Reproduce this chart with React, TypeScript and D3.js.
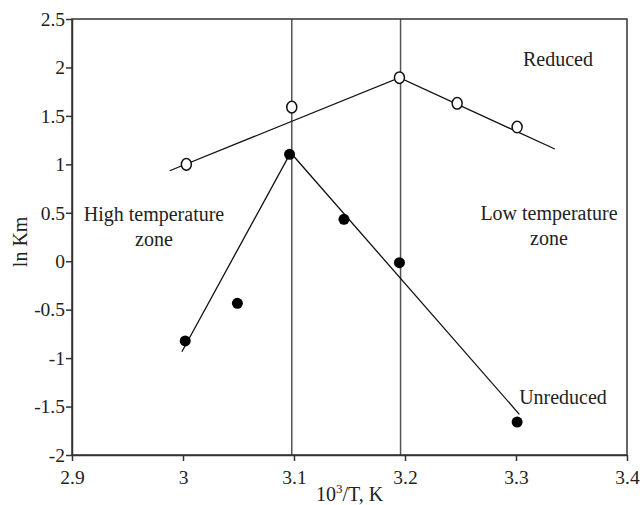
import React, { useEffect, useRef } from 'react';
import * as d3 from 'd3';

const xTicks = [2.9, 3, 3.1, 3.2, 3.3, 3.4];
const yTicks = [-2, -1.5, -1, -0.5, 0, 0.5, 1, 1.5, 2, 2.5];

const reducedX = [3.003, 3.098, 3.195, 3.247, 3.301];
const reducedY = [1.0, 1.59, 1.894, 1.63, 1.385];
const unreducedX = [3.002, 3.049, 3.096, 3.145, 3.195, 3.301];
const unreducedY = [-0.823, -0.435, 1.103, 0.432, -0.015, -1.66];

// fitted trend lines (two segments each)
const reducedFitX = [2.988, 3.195, 3.335];
const reducedFitY = [0.934, 1.894, 1.158];
const unreducedFitX = [2.999, 3.097, 3.303];
const unreducedFitY = [-0.934, 1.12, -1.58];

const zoneLines = [3.098, 3.196];

const width = 642;
const height = 505;
const margin = { top: 19, right: 15, bottom: 50, left: 72 };
const font = '"Liberation Serif", "Times New Roman", serif';
const ink = '#222';

export default function App() {
    const svgRef = useRef<SVGSVGElement>(null);

    useEffect(() => {
        const svg = d3.select(svgRef.current);
        svg.selectAll('*').remove();

        const x = d3.scaleLinear()
            .domain([2.9, 3.4])
            .range([margin.left, width - margin.right]);

        const y = d3.scaleLinear()
            .domain([-2, 2.5])
            .range([height - margin.bottom, margin.top]);

        const line = d3.line<[number, number]>()
            .x(d => x(d[0]))
            .y(d => y(d[1]));

        // zone dividers
        svg.append('g')
            .selectAll('line')
            .data(zoneLines)
            .join('line')
                .attr('x1', d => x(d))
                .attr('x2', d => x(d))
                .attr('y1', y(2.5))
                .attr('y2', y(-2))
                .attr('stroke', '#555')
                .attr('stroke-width', 1.5);

        // box
        svg.append('rect')
            .attr('x', x(2.9))
            .attr('y', y(2.5))
            .attr('width', x(3.4) - x(2.9))
            .attr('height', y(-2) - y(2.5))
            .attr('fill', 'none')
            .attr('stroke', '#333')
            .attr('stroke-width', 1.5);

        const xAxis = svg.append('g')
            .attr('transform', `translate(0, ${y(-2)})`)
            .call(d3.axisBottom(x).tickValues(xTicks).tickFormat(d => String(d)).tickSize(6).tickSizeOuter(0));

        const yAxis = svg.append('g')
            .attr('transform', `translate(${x(2.9)}, 0)`)
            .call(d3.axisLeft(y).tickValues(yTicks).tickFormat(d => String(d)).tickSize(6).tickSizeOuter(0));

        [xAxis, yAxis].forEach(g => {
            g.select('.domain').attr('stroke', '#333').attr('stroke-width', 1.5);
            g.selectAll('.tick line').attr('stroke', '#333').attr('stroke-width', 1.5);
            g.selectAll('.tick text')
                .attr('font-family', font)
                .attr('font-size', 19.5)
                .attr('fill', ink);
        });
        xAxis.selectAll('.tick text').attr('dy', '1.05em');
        yAxis.selectAll('.tick text').attr('x', -7);

        // trend lines
        svg.append('path')
            .attr('d', line(reducedFitX.map((v, i) => [v, reducedFitY[i]]))!)
            .attr('fill', 'none')
            .attr('stroke', '#111')
            .attr('stroke-width', 1.3);

        svg.append('path')
            .attr('d', line(unreducedFitX.map((v, i) => [v, unreducedFitY[i]]))!)
            .attr('fill', 'none')
            .attr('stroke', '#111')
            .attr('stroke-width', 1.3);

        // markers
        svg.append('g')
            .selectAll('ellipse')
            .data(reducedX.map((v, i) => [v, reducedY[i]]))
            .join('ellipse')
                .attr('cx', d => x(d[0]))
                .attr('cy', d => y(d[1]))
                .attr('rx', 5)
                .attr('ry', 5.8)
                .attr('fill', 'white')
                .attr('stroke', '#111')
                .attr('stroke-width', 1.5);

        svg.append('g')
            .selectAll('circle')
            .data(unreducedX.map((v, i) => [v, unreducedY[i]]))
            .join('circle')
                .attr('cx', d => x(d[0]))
                .attr('cy', d => y(d[1]))
                .attr('r', 5.5)
                .attr('fill', '#000');

        // annotations
        const labels = [
            { text: 'Reduced', x: 558, y: 66 },
            { text: 'High temperature', x: 154, y: 221 },
            { text: 'zone', x: 154, y: 246 },
            { text: 'Low temperature', x: 549, y: 220 },
            { text: 'zone', x: 549, y: 245 },
            { text: 'Unreduced', x: 563, y: 404 },
        ];
        svg.append('g')
            .selectAll('text')
            .data(labels)
            .join('text')
                .attr('x', d => d.x)
                .attr('y', d => d.y)
                .attr('text-anchor', 'middle')
                .attr('font-family', font)
                .attr('font-size', 20)
                .attr('fill', ink)
                .text(d => d.text);

        // axis titles
        const xt = svg.append('text')
            .attr('x', (x(2.9) + x(3.4)) / 2)
            .attr('y', 501)
            .attr('text-anchor', 'middle')
            .attr('font-family', font)
            .attr('font-size', 20)
            .attr('fill', ink);
        xt.append('tspan').text('10');
        xt.append('tspan').attr('dy', -8).attr('font-size', 13).text('3');
        xt.append('tspan').attr('dy', 8).text('/T, K');

        svg.append('text')
            .attr('transform', `translate(27, ${y(0.2)}) rotate(-90)`)
            .attr('text-anchor', 'middle')
            .attr('font-family', font)
            .attr('font-size', 20)
            .attr('fill', ink)
            .text('ln Km');
    }, []);

    return (
        <svg ref={svgRef} width={width} height={height}
            style={{ position: 'absolute', left: 0, top: 0, background: 'white' }} />
    );
}
